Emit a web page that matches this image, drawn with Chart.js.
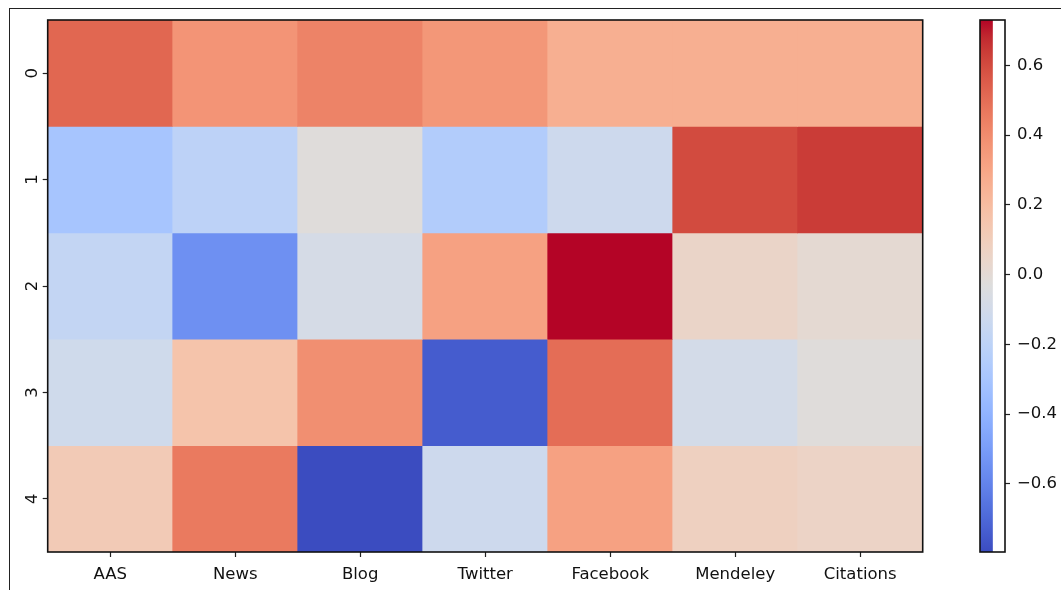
<!DOCTYPE html>
<html>
<head>
<meta charset="utf-8">
<script src="https://cdn.jsdelivr.net/npm/chart.js@4.4.1/dist/chart.umd.min.js"></script>
<style>
  html, body { margin: 0; padding: 0; background: #fff; }
  #wrap { position: relative; width: 1061px; height: 590px; overflow: hidden; background: #fff; }
  #frame { position: absolute; left: 9px; top: 8px; width: 1200px; height: 800px;
           border-top: 1.5px solid #222; border-left: 1.5px solid #222; }
  #main { position: absolute; left: 0; top: 0; }
  #cbar { position: absolute; left: 950px; top: 0; }
</style>
</head>
<body>
<div id="wrap">
  <div id="frame"></div>
  <canvas id="main" width="945" height="590"></canvas>
  <canvas id="cbar" width="111" height="590"></canvas>
</div>
<script>
// Heatmap categories and values (one array per row)
const COLUMNS = ['AAS', 'News', 'Blog', 'Twitter', 'Facebook', 'Mendeley', 'Citations'];
const ROW_LABELS = ['0', '1', '2', '3', '4'];
const ROW_0 = [0.52, 0.37, 0.43, 0.36, 0.26, 0.26, 0.26];
const ROW_1 = [-0.30, -0.20, -0.02, -0.25, -0.12, 0.60, 0.64];
const ROW_2 = [-0.17, -0.55, -0.08, 0.32, 0.73, 0.05, 0.01];
const ROW_3 = [-0.11, 0.16, 0.39, -0.74, 0.50, -0.09, -0.02];
const ROW_4 = [0.12, 0.46, -0.795, -0.12, 0.32, 0.08, 0.06];
const ROWS = [ROW_0, ROW_1, ROW_2, ROW_3, ROW_4];
const COLORBAR_TICKS = [-0.6, -0.4, -0.2, 0.0, 0.2, 0.4, 0.6];

const VMIN = Math.min(...ROWS.flat());
const VMAX = Math.max(...ROWS.flat());

// Diverging cool-warm colour map, 33 evenly spaced control points
const COOLWARM = [
  [59,76,192],[68,90,204],[77,104,215],[87,117,225],[98,130,234],[108,142,241],
  [119,154,247],[130,165,251],[141,176,254],[152,185,255],[163,194,255],[174,201,253],
  [184,208,249],[194,213,244],[204,217,238],[213,219,230],[221,221,221],[229,216,209],
  [236,211,197],[241,204,184],[245,196,172],[247,187,159],[247,177,147],[247,166,134],
  [244,154,123],[241,141,111],[236,127,99],[229,112,88],[222,96,77],[213,80,66],
  [203,62,56],[192,40,47],[180,4,38]
];
function cmap(t) {
  t = Math.max(0, Math.min(1, t));
  const f = t * (COOLWARM.length - 1);
  const i = Math.min(COOLWARM.length - 2, Math.floor(f));
  const u = f - i;
  const a = COOLWARM[i], b = COOLWARM[i + 1];
  const c = a.map((v, k) => Math.round(v + (b[k] - v) * u));
  return `rgb(${c[0]},${c[1]},${c[2]})`;
}
const colorFor = v => cmap((v - VMIN) / (VMAX - VMIN));

const FONT = { family: 'DejaVu Sans', size: 16.5 };
const TEXT = '#111';

// Black frame round the plotting area
const framePlugin = {
  id: 'frame',
  afterDraw(chart) {
    const { ctx, chartArea: a } = chart;
    ctx.save();
    ctx.strokeStyle = '#111';
    ctx.lineWidth = 1.6;
    ctx.strokeRect(a.left, a.top, a.right - a.left, a.bottom - a.top);
    ctx.restore();
  }
};

// Each row is a dataset of floating bars spanning one unit on the row axis
const datasets = ROWS.map((row, r) => ({
  label: ROW_LABELS[r],
  data: row.map(() => [r - 0.5, r + 0.5]),
  backgroundColor: row.map(colorFor),
  borderWidth: 0,
  borderSkipped: false,
  barPercentage: 1,
  categoryPercentage: 1,
  grouped: false
}));

new Chart(document.getElementById('main'), {
  type: 'bar',
  data: { labels: COLUMNS, datasets },
  options: {
    responsive: false,
    animation: false,
    events: [],
    layout: { padding: { left: 0, right: 22.3, top: 20, bottom: 0 } },
    plugins: { legend: { display: false }, tooltip: { enabled: false } },
    scales: {
      x: {
        type: 'category',
        offset: true,
        border: { display: false },
        grid: { display: true, offset: false, drawOnChartArea: false, drawTicks: true,
                tickLength: 5, tickWidth: 1.2, tickColor: '#222' },
        ticks: { font: FONT, color: TEXT, padding: 8, maxRotation: 0, minRotation: 0 },
        afterFit(s) { s.height = 38; }
      },
      y: {
        type: 'linear',
        reverse: true,
        min: -0.5,
        max: 4.5,
        border: { display: false },
        grid: { display: true, drawOnChartArea: false, drawTicks: true,
                tickLength: 5, tickWidth: 1.2, tickColor: '#222' },
        afterBuildTicks(s) { s.ticks = ROW_LABELS.map((_, i) => ({ value: i })); },
        ticks: {
          font: FONT, color: TEXT, padding: 5,
          minRotation: 90, maxRotation: 90, crossAlign: 'center',
          callback: v => ROW_LABELS[v]
        },
        afterFit(s) { s.width = 47.7; }
      }
    }
  },
  plugins: [framePlugin]
});

// Colour bar: a single floating bar from VMIN to VMAX filled with the colour map
new Chart(document.getElementById('cbar'), {
  type: 'bar',
  data: {
    labels: [''],
    datasets: [{
      data: [[VMIN, VMAX]],
      barPercentage: 1,
      categoryPercentage: 1,
      borderWidth: 0,
      borderSkipped: false,
      backgroundColor(ctx) {
        const chart = ctx.chart;
        if (!chart.chartArea) return '#ddd';
        const y = chart.scales.y;
        const y0 = y.getPixelForValue(VMIN), y1 = y.getPixelForValue(VMAX);
        const g = chart.ctx.createLinearGradient(0, y0, 0, y1);
        const n = 64;
        for (let i = 0; i <= n; i++) g.addColorStop(i / n, cmap(i / n));
        return g;
      }
    }]
  },
  options: {
    responsive: false,
    animation: false,
    events: [],
    layout: { padding: { left: 30, right: 0, top: 20, bottom: 38 } },
    plugins: { legend: { display: false }, tooltip: { enabled: false } },
    scales: {
      x: { display: false, offset: false },
      y: {
        type: 'linear',
        position: 'right',
        min: VMIN,
        max: VMAX,
        border: { display: false },
        grid: { display: true, drawOnChartArea: false, drawTicks: true,
                tickLength: 5, tickWidth: 1.2, tickColor: '#222' },
        afterBuildTicks(s) { s.ticks = COLORBAR_TICKS.map(v => ({ value: v })); },
        ticks: {
          font: FONT, color: TEXT, padding: 7,
          callback: v => (Math.abs(v) < 1e-9 ? 0 : v).toFixed(1).replace('-', '\u2212')
        },
        afterFit(s) { s.width = 56; }
      }
    }
  },
  plugins: [framePlugin]
});
</script>
</body>
</html>
